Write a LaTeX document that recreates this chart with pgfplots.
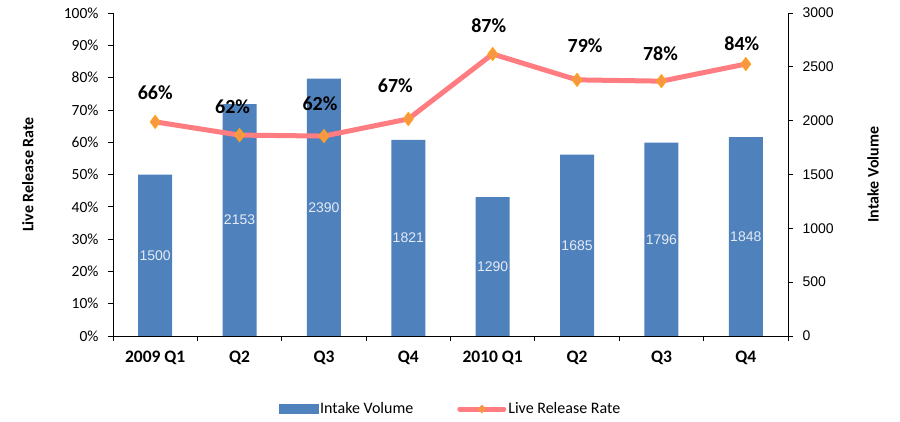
\documentclass[border=0pt]{standalone}
\usepackage{pgfplots}
\pgfplotsset{compat=1.18}
\usepackage{pgfplotstable}
\usepackage{fontspec}
\setmainfont{Carlito}
\newfontfamily\arial{Liberation Sans}
\definecolor{barblue}{HTML}{4F81BD}
\definecolor{linepink}{HTML}{FF7C80}
\definecolor{mkfill}{HTML}{F79646}
\definecolor{mkdraw}{HTML}{FFA31A}
\definecolor{barlabel}{HTML}{E4EBF5}

\pgfplotstableread{
x vol
0 1500
1 2153
2 2390
3 1821
4 1290
5 1685
6 1796
7 1848
}\voltable
\pgfplotstableread{
x rate lab dx dy
0 0.663 66 0 22
1 0.622 62 -7 22
2 0.619 62 -4 26
3 0.672 67 -13 26
4 0.873 87 -4 22
5 0.793 79 8 27
6 0.789 78 -1 21
7 0.842 84 -4 14
}\ratetable

\begin{document}
\begin{tikzpicture}
\begin{axis}[
  at={(0pt,0pt)}, anchor=south west,
  width=675pt, height=323pt, scale only axis,
  xmin=-0.5, xmax=7.5, ymin=0, ymax=3000,
  axis y line*=right, axis x line*=bottom,
  axis line style={-, black, line width=0.8pt},
  xtick={-0.5,0.5,1.5,2.5,3.5,4.5,5.5,6.5,7.5}, xticklabels={},
  ytick={0,500,1000,1500,2000,2500,3000},
  tick align=outside, major tick length=5pt,
  tick style={black, line width=0.8pt},
  yticklabel style={font=\arial\fontsize{14}{16}\selectfont, xshift=6pt},
  /pgf/number format/1000 sep={},
  /pgf/number format/assume math mode=true,
  ylabel={\bfseries Intake Volume},
  every axis y label/.style={at={(axis description cs:1.126,0.5)}, rotate=90, anchor=center, font=\fontsize{16}{18}\selectfont},
  ybar, bar width=34pt,
]
\addplot[fill=barblue, draw=none,
  point meta=explicit symbolic,
  nodes near coords={\pgfplotspointmeta},
  visualization depends on={\thisrow{vol}\as\rawy},
  nodes near coords style={font=\arial\fontsize{14}{16}\selectfont, color=barlabel, anchor=center, yshift=-\rawy*0.0538333pt}
] table[x=x, y=vol, meta=vol]{\voltable};
\end{axis}

\begin{axis}[
  at={(0pt,0pt)}, anchor=south west,
  width=675pt, height=323pt, scale only axis,
  xmin=-0.5, xmax=7.5, ymin=0, ymax=1,
  axis y line*=left, axis x line*=bottom,
  axis line style={-, black, line width=0.8pt},
  xtick={0,1,2,3,4,5,6,7},
  xticklabels={2009 Q1,Q2,Q3,Q4,2010 Q1,Q2,Q3,Q4},
  xticklabel style={font=\bfseries\fontsize{17.5}{20}\selectfont, yshift=-6pt},
  x tick style={draw=none},
  ytick={0,0.1,0.2,0.3,0.4,0.5,0.6,0.7,0.8,0.9,1},
  yticklabels={0\%,10\%,20\%,30\%,40\%,50\%,60\%,70\%,80\%,90\%,100\%},
  yticklabel style={font=\fontsize{15.5}{18}\selectfont, xshift=-6pt},
  tick align=outside, major tick length=5pt,
  tick style={black, line width=0.8pt},
  ylabel={\bfseries Live Release Rate},
  every axis y label/.style={at={(axis description cs:-0.126,0.5)}, rotate=90, anchor=center, font=\fontsize{16}{18}\selectfont},
  clip=false,
  legend style={at={(0.5,-0.226)}, anchor=center, draw=none, fill=none,
    font=\fontsize{16}{18}\selectfont, legend columns=2,
    /tikz/every even column/.append style={column sep=42pt}},
  legend cell align=left,
]
\addlegendimage{legend image code/.code={\fill[barblue] (0pt,-4.5pt) rectangle (39pt,4.5pt);}}
\addlegendentry{Intake Volume}
\addlegendimage{legend image code/.code={\draw[linepink, line width=5pt, line cap=round] (0pt,0pt) -- (44pt,0pt); \fill[mkfill] (22pt,-4pt) -- (26pt,0pt) -- (22pt,4pt) -- (18pt,0pt) -- cycle;}}
\addlegendentry{Live Release Rate}
\addplot[forget plot, color=linepink, line width=5pt, line join=round,
  mark=diamond*, mark size=6.5pt, mark options={fill=mkfill, draw=mkdraw, line width=1pt},
  point meta=explicit symbolic,
  nodes near coords={\pgfplotspointmeta\%},
  visualization depends on={\thisrow{dx}\as\dx},
  visualization depends on={\thisrow{dy}\as\dy},
  nodes near coords style={font=\bfseries\fontsize{20}{22}\selectfont, black, anchor=base, xshift=\dx pt, yshift=\dy pt}
] table[x=x, y=rate, meta=lab]{\ratetable};
\end{axis}
\pgfresetboundingbox
\path[use as bounding box] (-113pt,-85pt) rectangle (787pt,336pt);
\end{tikzpicture}
\end{document}
